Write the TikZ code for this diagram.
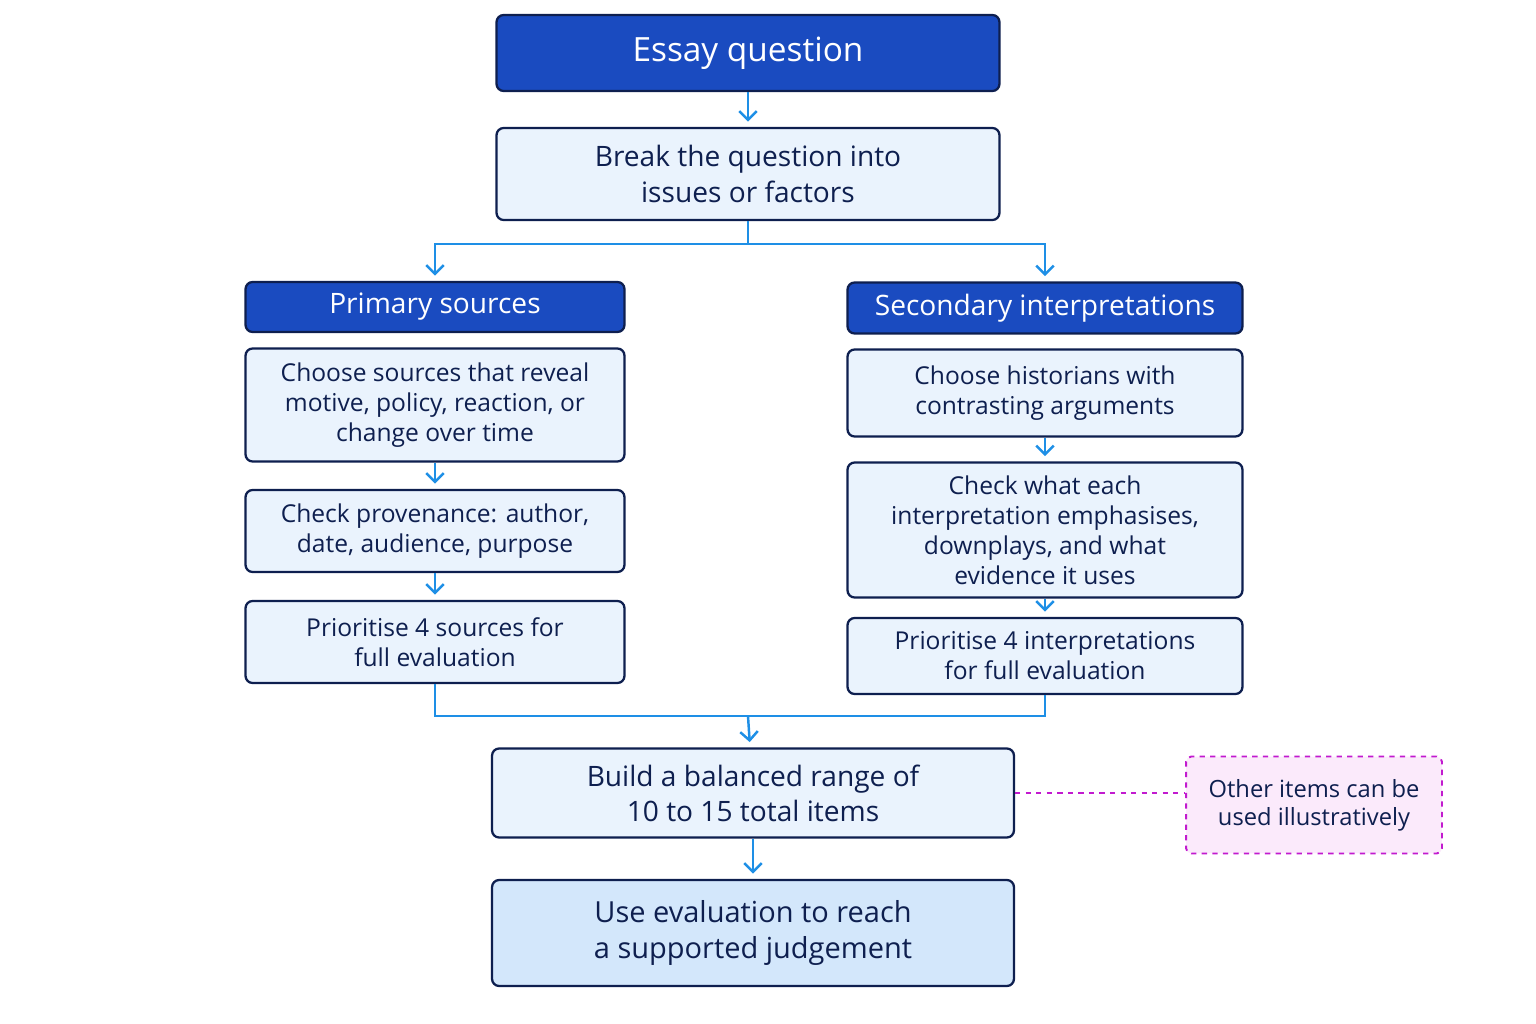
\documentclass[tikz,border=0pt]{standalone}
\usepackage{fontspec}
\setmainfont{Open Sans}
\usetikzlibrary{arrows.meta}
\definecolor{headblue}{HTML}{1A4BC0}
\definecolor{edgenavy}{HTML}{0E1F4F}
\definecolor{paleblue}{HTML}{EAF3FD}
\definecolor{softblue}{HTML}{D3E7FB}
\definecolor{linkblue}{HTML}{1E8FE6}
\definecolor{notepurple}{HTML}{C21ACF}
\definecolor{notepink}{HTML}{FBEAFB}
\begin{document}
\begin{tikzpicture}[x=0.02cm, y=-0.02cm,
head/.style={rectangle, rounded corners=4pt, draw=edgenavy, line width=1.3pt, fill=headblue, text=white, align=center},
stepbox/.style={rectangle, rounded corners=4pt, draw=edgenavy, line width=1.3pt, fill=paleblue, text=edgenavy, align=center, font=\fontsize{14}{17}\selectfont},
goal/.style={stepbox, fill=softblue, font=\fontsize{16.5}{20}\selectfont},
note/.style={rectangle, rounded corners=3pt, draw=notepurple, dashed, line width=1.1pt, fill=notepink, text=edgenavy, align=center, font=\fontsize{13.5}{16}\selectfont},
link/.style={draw=linkblue, line width=1.4pt},
arrow/.style={link, -{Straight Barb[length=5pt, width=10pt]}, shorten >=3pt},
]
\useasboundingbox (0,0) rectangle (1536,1024);
% top
\node[head, minimum width=10.06cm, minimum height=1.52cm, font=\fontsize{19}{23}\selectfont] (essay) at (748,53) {Essay question};
\node[stepbox, minimum width=10.06cm, minimum height=1.84cm, font=\fontsize{16}{20}\selectfont] (break) at (748,174) {Break the question into\\issues or factors};
% primary column
\node[head, minimum width=7.58cm, minimum height=1cm, font=\fontsize{16}{19}\selectfont] (primary) at (435,307) {Primary sources};
\node[stepbox, minimum width=7.58cm, minimum height=2.26cm] (choose1) at (435,405) {Choose sources that reveal\\motive, policy, reaction, or\\change over time};
\node[stepbox, minimum width=7.58cm, minimum height=1.64cm] (check1) at (435,531) {Check provenance: author,\\date, audience, purpose};
\node[stepbox, minimum width=7.58cm, minimum height=1.64cm] (prio1) at (435,642) {Prioritise 4 sources for\\full evaluation};
% secondary column
\node[head, minimum width=7.9cm, minimum height=1.02cm, font=\fontsize{16}{19}\selectfont] (secondary) at (1045,308) {Secondary interpretations};
\node[stepbox, minimum width=7.9cm, minimum height=1.74cm] (choose2) at (1045,393) {Choose historians with\\contrasting arguments};
\node[stepbox, minimum width=7.9cm, minimum height=2.7cm] (check2) at (1045,530) {Check what each\\interpretation emphasises,\\downplays, and what\\evidence it uses};
\node[stepbox, minimum width=7.9cm, minimum height=1.52cm] (prio2) at (1045,656) {Prioritise 4 interpretations\\for full evaluation};
% bottom
\node[stepbox, minimum width=10.44cm, minimum height=1.78cm, font=\fontsize{16}{20}\selectfont] (build) at (753,793) {Build a balanced range of\\10 to 15 total items};
\node[goal, minimum width=10.44cm, minimum height=2.12cm] (judge) at (753,933) {Use evaluation to reach\\a supported judgement};
\node[note, minimum width=5.12cm, minimum height=1.94cm] (other) at (1314,805) {Other items can be\\used illustratively};
% connectors
\coordinate (split) at (748,244);
\coordinate (join) at (748,716);
\draw[arrow] (essay) -- (break);
\draw[link] (break) -- (split);
\draw[arrow] (split) -| (primary.north);
\draw[arrow] (split) -| (secondary.north);
\draw[arrow] (choose1) -- (check1);
\draw[arrow] (check1) -- (prio1);
\draw[arrow] (choose2) -- (check2);
\draw[arrow] (check2) -- (prio2);
\draw[link] (prio1) |- (join);
\draw[link] (prio2) |- (join);
\draw[arrow] (join) -- (build);
\draw[arrow] (build) -- (judge);
\draw[draw=notepurple, dashed, line width=1.1pt] (build) -- (build -| other.west);
\end{tikzpicture}
\end{document}
